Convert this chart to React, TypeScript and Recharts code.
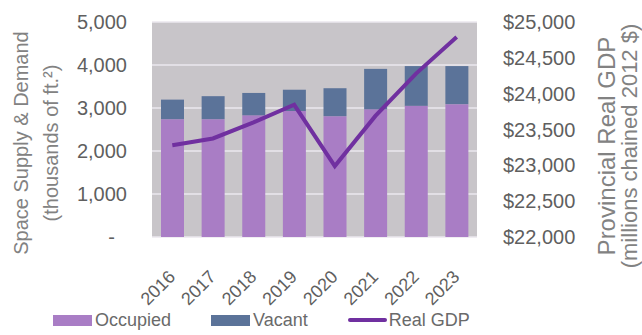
import React from "react";
import {
  ComposedChart,
  Bar,
  Line,
  XAxis,
  YAxis,
  CartesianGrid,
  Legend,
} from "recharts";

// Years on the category axis
const YEARS = ["2016", "2017", "2018", "2019", "2020", "2021", "2022", "2023"];
// Space supply & demand, thousands of ft²
const OCCUPIED = [2740, 2740, 2830, 2930, 2810, 2970, 3050, 3090];
const VACANT = [455, 535, 520, 495, 650, 940, 925, 885];
// Provincial real GDP, millions chained 2012 $
const REAL_GDP = [23280, 23375, 23600, 23845, 22990, 23690, 24280, 24790];

const LEFT_TICKS = [0, 1000, 2000, 3000, 4000, 5000];
const RIGHT_TICKS = [22000, 22500, 23000, 23500, 24000, 24500, 25000];

const FONT = "'Liberation Sans', Arial, sans-serif";
const TICK_COLOR = "#5f5f5f";
const TITLE_COLOR = "#828282";

const COLORS = {
  occupied: "#a97dc5",
  vacant: "#5b7399",
  gdp: "#7030a0",
  plot: "#c8c5c9",
  grid: "#ebe7ee",
};

const data = YEARS.map((year, i) => ({
  year,
  occupied: OCCUPIED[i],
  vacant: VACANT[i],
  gdp: REAL_GDP[i],
}));

const fmt = (v: number) => v.toLocaleString("en-US");

function LeftTick(props: any) {
  const { x, y, payload } = props;
  const v = payload.value as number;
  return (
    <text
      x={v === 0 ? x - 12 : x}
      y={y}
      dy="0.355em"
      textAnchor="end"
      fill={TICK_COLOR}
      fontSize={20}
      fontFamily={FONT}
    >
      {v === 0 ? "-" : fmt(v)}
    </text>
  );
}

function RightTick(props: any) {
  const { x, y, payload } = props;
  return (
    <text
      x={x}
      y={y}
      dy="0.355em"
      textAnchor="start"
      fill={TICK_COLOR}
      fontSize={20}
      fontFamily={FONT}
    >
      {"$" + fmt(payload.value)}
    </text>
  );
}

function YearTick(props: any) {
  const { x, y, payload } = props;
  return (
    <g transform={`translate(${x + 4},${y + 33})`}>
      <text
        x={0}
        y={0}
        textAnchor="end"
        transform="rotate(-45)"
        fill={TICK_COLOR}
        fontSize={18}
        fontFamily={FONT}
      >
        {payload.value}
      </text>
    </g>
  );
}

// two-line rotated axis title
function AxisTitle({
  lines,
  xs,
  cy,
  sizes,
}: {
  lines: string[];
  xs: number[];
  cy: number;
  sizes: number[];
}) {
  return (
    <g>
      {lines.map((t, i) => (
        <text
          key={t}
          x={xs[i]}
          y={cy}
          transform={`rotate(-90, ${xs[i]}, ${cy})`}
          textAnchor="middle"
          fill={TITLE_COLOR}
          fontSize={sizes[i]}
          fontFamily={FONT}
        >
          {t}
        </text>
      ))}
    </g>
  );
}

const LEGEND_ITEMS = [
  { name: "Occupied", color: COLORS.occupied, kind: "bar" },
  { name: "Vacant", color: COLORS.vacant, kind: "bar" },
  { name: "Real GDP", color: COLORS.gdp, kind: "line" },
];

function LegendContent() {
  return (
    <div
      style={{
        display: "flex",
        alignItems: "center",
        paddingLeft: 53,
        fontFamily: FONT,
        fontSize: 18,
        color: "#6a6a6a",
        height: 30,
      }}
    >
      {LEGEND_ITEMS.map((it) => (
        <div
          key={it.name}
          style={{ display: "flex", alignItems: "center", marginRight: 40 }}
        >
          {it.kind === "bar" ? (
            <span
              style={{
                display: "inline-block",
                width: 39,
                height: 11,
                background: it.color,
                marginRight: 3,
              }}
            />
          ) : (
            <span
              style={{
                display: "inline-block",
                width: 39,
                height: 4,
                borderRadius: 2,
                background: it.color,
                marginRight: 2,
              }}
            />
          )}
          <span>{it.name}</span>
        </div>
      ))}
    </div>
  );
}

export default function App() {
  return (
    <div
      style={{
        position: "absolute",
        left: 0,
        top: 0,
        width: 642,
        height: 335,
        background: "#fff",
      }}
    >
      <ComposedChart
        width={642}
        height={335}
        data={data}
        margin={{ top: 22, right: 0, bottom: 0, left: 0 }}
      >
        <CartesianGrid
          yAxisId="left"
          vertical={false}
          fill={COLORS.plot}
          stroke={COLORS.grid}
          strokeWidth={1.5}
        />
        <XAxis
          dataKey="year"
          axisLine={false}
          tickLine={false}
          interval={0}
          height={68}
          tick={<YearTick />}
        />
        <YAxis
          yAxisId="left"
          orientation="left"
          width={152}
          domain={[0, 5000]}
          ticks={LEFT_TICKS}
          axisLine={false}
          tickLine={false}
          tickSize={0}
          tickMargin={25}
          tick={<LeftTick />}
          label={{
            content: () => (
              <AxisTitle
                lines={["Space Supply & Demand", "(thousands of ft.²)"]}
                xs={[28, 58]}
                cy={143}
                sizes={[20, 20]}
              />
            ),
          }}
        />
        <YAxis
          yAxisId="right"
          orientation="right"
          width={165}
          domain={[22000, 25000]}
          ticks={RIGHT_TICKS}
          axisLine={false}
          tickLine={false}
          tickSize={0}
          tickMargin={26}
          tick={<RightTick />}
          label={{
            content: () => (
              <AxisTitle
                lines={["Provincial Real GDP", "(millions chained 2012 $)"]}
                xs={[615, 637]}
                cy={146}
                sizes={[24, 22]}
              />
            ),
          }}
        />
        <Legend verticalAlign="bottom" content={<LegendContent />} />
        <Bar
          yAxisId="left"
          dataKey="occupied"
          name="Occupied"
          stackId="space"
          fill={COLORS.occupied}
          barSize={23}
          isAnimationActive={false}
        />
        <Bar
          yAxisId="left"
          dataKey="vacant"
          name="Vacant"
          stackId="space"
          fill={COLORS.vacant}
          barSize={23}
          isAnimationActive={false}
        />
        <Line
          yAxisId="right"
          dataKey="gdp"
          name="Real GDP"
          type="linear"
          stroke={COLORS.gdp}
          strokeWidth={4}
          dot={false}
          activeDot={false}
          isAnimationActive={false}
        />
      </ComposedChart>
    </div>
  );
}
